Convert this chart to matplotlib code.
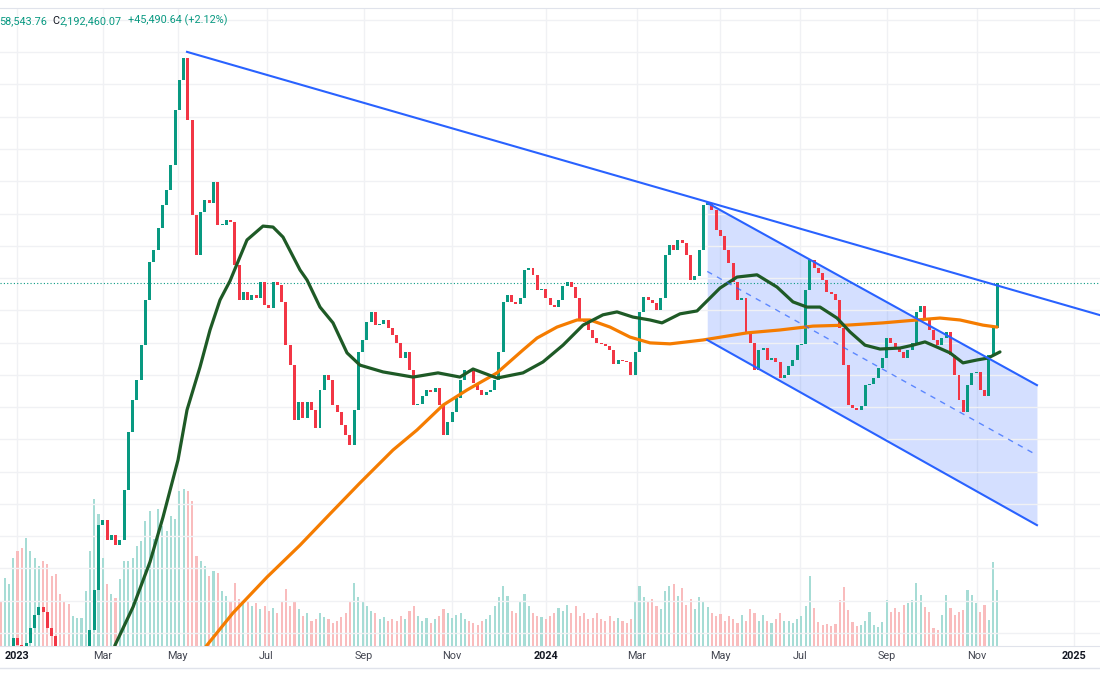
import numpy as np
import matplotlib
matplotlib.use("Agg")
import matplotlib.pyplot as plt
from matplotlib.ticker import MultipleLocator
from matplotlib.lines import Line2D

# one candle = two sessions, prices in thousands
close = [1040, 1049, 1061, 1092, 1071, 1055, 1077, 1123, 1164, 1188,
         1173, 1123, 1098, 1055, 1024, 1009, 999, 1009, 1024, 1030,
         1049, 1117, 1241, 1443, 1458, 1396, 1412, 1381, 1396, 1551,
         1731, 1830, 1892, 2000, 2140, 2258, 2295, 2363, 2435, 2481,
         2558, 2729, 2822, 2890, 2698, 2403, 2280, 2413, 2450, 2441,
         2506, 2372, 2372, 2388, 2382, 2248, 2140, 2165, 2140, 2155,
         2146, 2196, 2124, 2115, 2196, 2186, 2134, 2000, 1938, 1768,
         1824, 1774, 1824, 1799, 1743, 1861, 1908, 1892, 1814, 1793,
         1752, 1722, 1690, 1799, 1979, 2016, 2072, 2103, 2062, 2066,
         2078, 2053, 2032, 2007, 1960, 1979, 1923, 1814, 1818, 1842,
         1861, 1855, 1867, 1814, 1722, 1762, 1793, 1836, 1892, 1923,
         1920, 1883, 1861, 1846, 1855, 1861, 1892, 1979, 2134, 2155,
         2134, 2128, 2146, 2233, 2239, 2218, 2171, 2174, 2146, 2124,
         2118, 2140, 2183, 2196, 2180, 2146, 2078, 2072, 2047, 2022,
         2007, 2004, 1997, 1985, 1942, 1954, 1951, 1948, 1908, 1979,
         2103, 2149, 2140, 2131, 2109, 2146, 2280, 2310, 2295, 2326,
         2317, 2280, 2202, 2214, 2295, 2435, 2441, 2419, 2357, 2338,
         2295, 2255, 2196, 2140, 2146, 2035, 2007, 1923, 1985, 1991,
         1954, 1960, 1948, 1898, 1908, 1935, 1954, 2000, 2004, 2171,
         2264, 2239, 2224, 2202, 2165, 2159, 2140, 2053, 1938, 1814,
         1805, 1799, 1811, 1876, 1880, 1898, 1929, 1960, 2022, 2007,
         1991, 1979, 1960, 1985, 2007, 2103, 2121, 2084, 2047, 2016,
         2000, 2022, 2041, 1970, 1908, 1830, 1793, 1876, 1914, 1917,
         1861, 1842, 1970, 2053, 2192.46]
first_open = 1045

volume = [45, 68, 62, 88, 95, 98, 108, 95, 88, 80,
          85, 82, 70, 72, 52, 45, 42, 30, 28, 28,
          55, 95, 147, 132, 88, 62, 52, 48, 67, 85,
          85, 88, 100, 105, 125, 135, 107, 137, 120, 115,
          130, 127, 155, 157, 155, 145, 90, 85, 80, 70,
          75, 73, 55, 50, 45, 63, 47, 42, 45, 40,
          43, 37, 40, 35, 38, 33, 45, 57, 40, 45,
          37, 30, 33, 25, 27, 33, 29, 27, 23, 25,
          29, 33, 45, 63, 49, 45, 40, 35, 33, 27,
          29, 25, 27, 25, 30, 27, 35, 40, 30, 25,
          28, 23, 27, 30, 37, 33, 28, 31, 33, 27,
          25, 23, 21, 25, 27, 31, 40, 49, 60, 50,
          35, 33, 45, 52, 40, 33, 30, 29, 27, 30,
          33, 38, 35, 41, 33, 40, 30, 33, 27, 28,
          33, 27, 25, 30, 25, 28, 25, 23, 27, 45,
          60, 49, 45, 47, 40, 37, 55, 60, 62, 50,
          58, 41, 47, 37, 49, 45, 39, 33, 30, 32,
          25, 30, 27, 23, 31, 25, 37, 33, 25, 31,
          25, 23, 27, 33, 25, 25, 23, 27, 30, 40,
          70, 38, 24, 21, 22, 20, 22, 46, 59, 36,
          24, 20, 21, 25, 34, 21, 19, 24, 46, 34,
          38, 34, 41, 43, 46, 63, 51, 39, 34, 18,
          16, 31, 51, 38, 31, 34, 36, 56, 51, 43,
          34, 41, 26, 84, 56]

# moving averages (candle index, price)
ma_fast_x = [25.23, 26.88, 31.10, 35.09, 38.15, 41.67, 43.78, 46.83, 49.18, 51.53,
             53.87, 57.86, 61.62, 63.97, 66.31, 70.31, 71.95, 75.00, 78.05, 81.34,
             84.39, 89.79, 96.83, 102.70, 107.86, 110.92, 116.55, 122.65, 127.35, 132.04,
             136.74, 141.43, 144.72, 148.47, 152.46, 155.28, 159.51, 163.50, 168.90, 172.89,
             177.58, 182.28, 186.03, 189.32, 192.37, 196.36, 199.41, 202.93, 206.45, 211.15,
             214.20, 217.02, 219.83, 222.89, 225.94, 229.23, 231.81, 234.62]
ma_fast_y = [993, 1070, 1188, 1328, 1467, 1644, 1799, 1932, 2047, 2140,
             2199, 2326, 2369, 2366, 2335, 2233, 2202, 2118, 2069, 1976,
             1938, 1917, 1901, 1914, 1901, 1926, 1898, 1914, 1948, 2000,
             2062, 2094, 2103, 2087, 2078, 2069, 2097, 2106, 2177, 2211,
             2218, 2180, 2134, 2118, 2118, 2084, 2041, 2000, 1988, 1991,
             2000, 2010, 1994, 1976, 1945, 1954, 1960, 1979]

ma_slow_x = [45.66, 48.47, 54.58, 62.56, 70.31, 77.35, 84.39, 92.14, 97.77, 103.87,
             109.51, 116.55, 122.65, 125.94, 130.63, 135.33, 138.38, 143.08, 147.77, 152.46,
             157.16, 164.91, 175.23, 182.98, 190.73, 198.71, 207.16, 215.14, 220.54, 225.23,
             230.63, 233.92]
ma_slow_y = [1018, 1070, 1170, 1281, 1380, 1477, 1573, 1675, 1737, 1814,
             1861, 1914, 1985, 2022, 2056, 2078, 2078, 2056, 2025, 2007,
             2004, 2016, 2038, 2047, 2059, 2062, 2069, 2078, 2084, 2078,
             2062, 2056]

# drawings
trend_x = [43.78, 258.1]
trend_y = [2909, 2093]
chan_x = [165.9, 243.3]
chan_top = [2441, 1876]
chan_bot = [2016, 1442]

tick_pos = [3.76, 23.99, 41.55, 62.44, 85.28, 105.99, 127.98,
            149.30, 169.01, 187.68, 208.03, 229.15, 251.99]
tick_labels = ['2023', 'Mar', 'May', 'Jul', 'Sep', 'Nov', '2024',
               'Mar', 'May', 'Jul', 'Sep', 'Nov', '2025']

UP, DOWN = '#089981', '#f23645'
BLUE = '#2962ff'

plt.rcParams['font.family'] = ['Roboto', 'DejaVu Sans']

fig = plt.figure(figsize=(11, 7), dpi=100)
ax_vol = fig.add_axes([0, 54.5 / 700, 1, 637.5 / 700])
ax = ax_vol.twinx()

c = np.array(close, dtype=float)
o = np.r_[first_open, c[:-1]]
up = c >= o
x = np.arange(len(c))

# volume
ax_vol.bar(x, volume, width=0.5, color=np.where(up, '#a6dcd5', '#f9bcbd'), linewidth=0)
ax_vol.set_ylim(0, 637.5)
ax_vol.set_yticks([])
ax_vol.set_xlim(-0.12, 258.1)
ax_vol.set_xticks(tick_pos)
ax_vol.set_xticklabels(tick_labels)
ax_vol.tick_params(axis='x', length=0, pad=4, labelsize=7.8, colors='#131722')
for lab in ax_vol.get_xticklabels():
    if lab.get_text().isdigit():
        lab.set_fontweight('bold')
    else:
        lab.set_color('#434651')
ax_vol.grid(axis='x', color='#f0f1f4', linewidth=1)
ax_vol.set_axisbelow(True)
for s in ['left', 'right']:
    ax_vol.spines[s].set_visible(False)
for s in ['top', 'bottom']:
    ax_vol.spines[s].set_color('#e0e3eb')

# price
ax.set_ylim(1069, 3045)
ax.yaxis.set_major_locator(MultipleLocator(100, offset=8))
ax.grid(axis='y', color='#f0f1f4', linewidth=1)
ax.tick_params(axis='y', length=0, labelright=False)
for s in ax.spines.values():
    s.set_visible(False)

ax.fill_between(chan_x, chan_bot, chan_top, color=BLUE, alpha=0.2, linewidth=0, zorder=1)
body = np.maximum(np.abs(c - o), 4)
ax.bar(x, body, bottom=np.minimum(o, c), width=0.7,
       color=np.where(up, UP, DOWN), linewidth=0, zorder=3)

ax.plot(ma_slow_x, ma_slow_y, color='#f57c00', lw=2.3, zorder=4, solid_capstyle='round')
ax.plot(ma_fast_x, ma_fast_y, color='#1e5a26', lw=2.3, zorder=4, solid_capstyle='round')

ax.plot(trend_x, trend_y, color=BLUE, lw=1.5, zorder=5)
ax.plot(chan_x, chan_top, color=BLUE, lw=1.5, zorder=5)
ax.plot(chan_x, chan_bot, color=BLUE, lw=1.5, zorder=5)
mid = [(a + b) / 2 for a, b in zip(chan_top, chan_bot)]
ax.plot(chan_x, mid, color=BLUE, lw=1, ls=(0, (4, 4)), alpha=0.7, zorder=5)

ax.axhline(c[-1], color=UP, lw=0.8, ls=(0, (1, 2)), zorder=2)

# header
t1 = fig.text(-0.001, 1 - 21 / 700, '58,543.76', color=UP, fontsize=7.8, va='center')
t2 = ax.annotate('C', xy=(1, 0), xycoords=t1, xytext=(4, 0), textcoords='offset points',
                 color='#131722', fontsize=7.8, va='bottom', annotation_clip=False)
t3 = ax.annotate('2,192,460.07', xy=(1, 0), xycoords=t2, xytext=(0, 0),
                 textcoords='offset points', color=UP, fontsize=7.8, va='bottom',
                 annotation_clip=False)
ax.annotate('+45,490.64 (+2.12%)', xy=(1, 0), xycoords=t3, xytext=(5, 0),
            textcoords='offset points', color=UP, fontsize=7.8, va='bottom',
            annotation_clip=False)

fig.add_artist(Line2D([0, 1], [1 - 668 / 700] * 2, color='#e0e3eb', lw=1,
                      transform=fig.transFigure))

fig.savefig('out.png', dpi=100)
